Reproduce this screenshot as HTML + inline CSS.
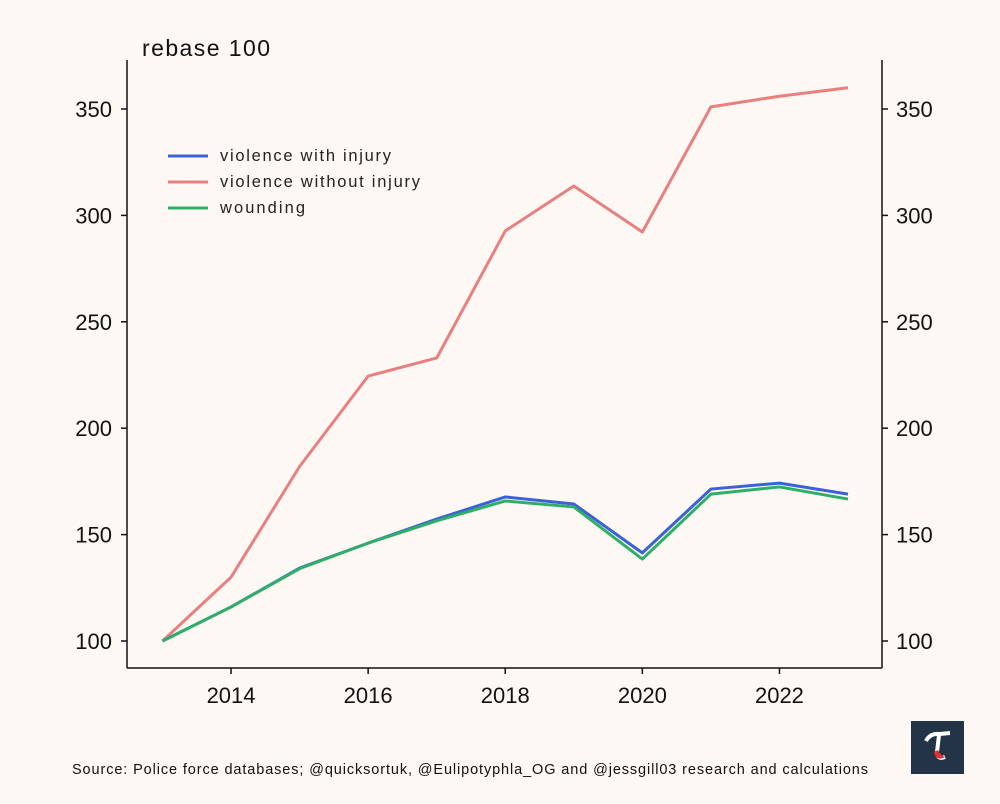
<!DOCTYPE html>
<html><head><meta charset="utf-8"><style>
body{margin:0;background:#fdf8f4;}
svg{display:block;font-family:"Liberation Sans",sans-serif;}
</style></head><body>
<svg id="chart" width="1000" height="804" viewBox="0 0 1000 804">
<rect width="1000" height="804" fill="#fdf8f4"/>
<text x="142" y="56" font-size="23" fill="#111" textLength="128">rebase 100</text>
<g id="axes"></g>
<g id="lines"></g>
<g>
<line x1="168" y1="156" x2="208" y2="156" stroke="#3a62d6" stroke-width="3"/>
<text x="220" y="161" font-size="16.5" fill="#222" textLength="171">violence with injury</text>
<line x1="168" y1="182" x2="208" y2="182" stroke="#e88080" stroke-width="3"/>
<text x="220" y="187" font-size="16.5" fill="#222" textLength="200">violence without injury</text>
<line x1="168" y1="208" x2="208" y2="208" stroke="#2fae68" stroke-width="3"/>
<text x="220" y="213" font-size="16.5" fill="#222" textLength="85">wounding</text>
</g>
<text x="72" y="774" font-size="14.5" fill="#111" textLength="796">Source: Police force databases; @quicksortuk, @Eulipotyphla_OG and @jessgill03 research and calculations</text>
<g>
<rect x="911" y="721" width="53" height="53" fill="#233447"/>
<path d="M926 741 Q930 733 940 734 L950 733" stroke="#fff" stroke-width="4" fill="none"/>
<path d="M939 735 L937 752 Q937 760 945 757" stroke="#fff" stroke-width="4" fill="none"/>
<path d="M934 752 Q936 762 945 757 Q940 755 938 750 Z" fill="#e03030"/>
</g>
</svg>
<script>
const years=[2013,2014,2015,2016,2017,2018,2019,2020,2021,2022,2023];
const withoutInjury=[100,130,182,224.5,233,292.7,313.8,292.2,351,356,360];
const withInjury=[100,116,134.3,146,157.3,167.7,164.4,141.4,171.4,174.2,169];
const wounding=[100,116,134,146,156.5,165.8,163,138.5,169,172.4,166.7];
const xTicks=[2014,2016,2018,2020,2022];
const yTicks=[100,150,200,250,300,350];
const NS="http://www.w3.org/2000/svg";
const X=v=>162.5+(v-2013)*68.55;
const Y=v=>641-(v-100)*2.128;
const axes=document.getElementById('axes'),lines=document.getElementById('lines');
function mk(tag,attrs,parent){const e=document.createElementNS(NS,tag);for(const k in attrs)e.setAttribute(k,attrs[k]);parent.appendChild(e);return e;}
const L=127,R=882,T=60,B=668;
let a=mk('line',{x1:L,y1:T,x2:L,y2:B,stroke:'#111','stroke-width':1.5},axes);


a=mk('line',{x1:R,y1:T,x2:R,y2:B,stroke:'#111','stroke-width':1.5},axes);


a=mk('line',{x1:L,y1:B,x2:R,y2:B,stroke:'#111','stroke-width':1.5},axes);


yTicks.forEach(v=>{
 mk('line',{x1:L-6,y1:Y(v),x2:L,y2:Y(v),stroke:'#111','stroke-width':1.5},axes);
 mk('line',{x1:R,y1:Y(v),x2:R+6,y2:Y(v),stroke:'#111','stroke-width':1.5},axes);
 let t=mk('text',{x:L-15,y:Y(v)+8,'font-size':22,'text-anchor':'end',fill:'#111'},axes);t.textContent=v;
 
 
 t=mk('text',{x:R+14,y:Y(v)+8,'font-size':22,fill:'#111'},axes);t.textContent=v;
 
 
});
xTicks.forEach(v=>{
 mk('line',{x1:X(v),y1:B,x2:X(v),y2:B+6,stroke:'#111','stroke-width':1.5},axes);
 let t=mk('text',{x:X(v),y:B+35,'font-size':22,'text-anchor':'middle',fill:'#111'},axes);t.textContent=v;
 
 
});
function line(data,color,name){
 const p=mk('polyline',{points:data.map((v,i)=>X(years[i])+','+Y(v)).join(' '),fill:'none',stroke:color,'stroke-width':3,'stroke-linejoin':'round'},lines);
 
 
}
line(withoutInjury,'#e88080','line-violence-without-injury');
line(withInjury,'#3a62d6','line-violence-with-injury');
line(wounding,'#2fae68','line-wounding');
</script>
</body></html>
